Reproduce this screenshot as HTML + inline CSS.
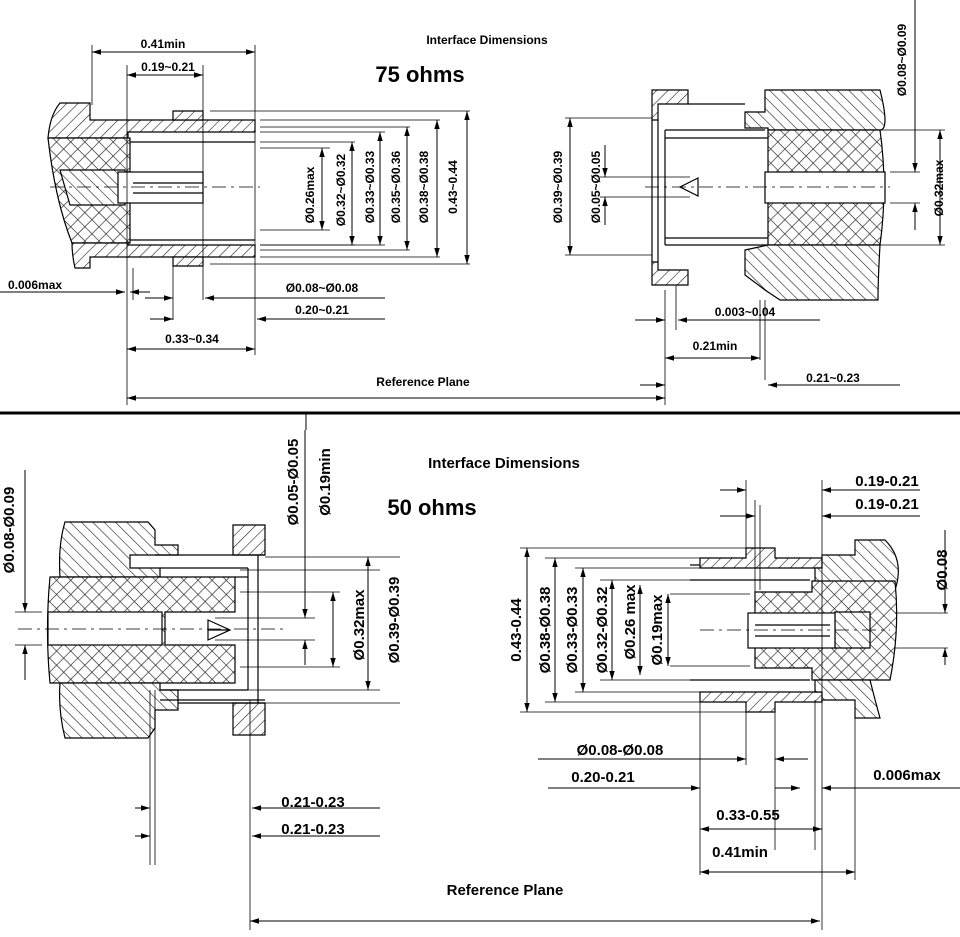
<!DOCTYPE html>
<html><head><meta charset="utf-8"><style>
html,body{margin:0;padding:0;background:#fff;}
svg{display:block;font-family:"Liberation Sans",sans-serif;font-weight:bold;}
</style></head><body>
<svg width="960" height="937" viewBox="0 0 960 937" xmlns="http://www.w3.org/2000/svg">
<defs>
<pattern id="h" width="8" height="8" patternUnits="userSpaceOnUse" patternTransform="rotate(45)"><rect width="8" height="8" fill="#fff"/><line x1="0" y1="0" x2="0" y2="8" stroke="#222" stroke-width="1.2"/></pattern>
<pattern id="h2" width="8" height="8" patternUnits="userSpaceOnUse" patternTransform="rotate(-45)"><rect width="8" height="8" fill="#fff"/><line x1="0" y1="0" x2="0" y2="8" stroke="#222" stroke-width="1.2"/></pattern>
<pattern id="x" width="10" height="10" patternUnits="userSpaceOnUse" patternTransform="rotate(45)"><rect width="10" height="10" fill="#fff"/><line x1="0" y1="0" x2="0" y2="10" stroke="#222" stroke-width="1.3"/><line x1="0" y1="0" x2="10" y2="0" stroke="#222" stroke-width="1.3"/></pattern>
<marker id="a" viewBox="0 0 10 10" refX="10" refY="5" markerWidth="9" markerHeight="9" orient="auto-start-reverse" markerUnits="userSpaceOnUse"><path d="M0,2 L10,5 L0,8z" fill="#000"/></marker>
</defs>
<g stroke="#000" stroke-width="1.2" fill="none">
<!-- ===== top-left 75 plug ===== -->
<path d="M60,103 L90,103 L90,120 L255,120 L255,132 L128,132 L128,138 L48,138 Q50,115 60,103z" fill="url(#h)"/>
<path d="M173,111 L203,111 L203,120 L173,120z" fill="url(#h)"/>
<path d="M48,138 L130,138 L130,243 L72,243 Q55,200 48,138z" fill="url(#x)"/>
<path d="M60,170 L125,170 L125,205 L70,205z" fill="url(#h2)"/>
<path d="M72,243 L128,243 L128,245 L255,245 L255,257 L90,257 L90,268 L75,268 Q72,255 72,243z" fill="url(#h)"/>
<path d="M173,257 L203,257 L203,266 L173,266z" fill="url(#h)"/>
<rect x="118" y="172" width="85" height="31" fill="#fff"/>
<line x1="133" y1="183" x2="203" y2="183"/><line x1="133" y1="193" x2="203" y2="193"/>
<line x1="130" y1="142" x2="255" y2="142"/><line x1="130" y1="240" x2="255" y2="240"/>
<line x1="50" y1="187" x2="260" y2="187" stroke-dasharray="14,5,3,5" stroke-width="0.8"/>
<!-- extension lines -->
<g stroke-width="0.8">
<line x1="210" y1="111" x2="470" y2="111"/><line x1="260" y1="120" x2="440" y2="120"/><line x1="260" y1="127" x2="410" y2="127"/>
<line x1="260" y1="132" x2="385" y2="132"/><line x1="260" y1="142" x2="355" y2="142"/><line x1="260" y1="148" x2="330" y2="148"/>
<line x1="260" y1="230" x2="330" y2="230"/><line x1="260" y1="245" x2="355" y2="245"/><line x1="260" y1="245" x2="385" y2="245"/>
<line x1="260" y1="250" x2="410" y2="250"/><line x1="260" y1="257" x2="440" y2="257"/><line x1="210" y1="264" x2="470" y2="264"/>
<line x1="92" y1="45" x2="92" y2="105"/><line x1="255" y1="45" x2="255" y2="355"/><line x1="127" y1="65" x2="127" y2="405"/><line x1="203" y1="65" x2="203" y2="300"/>
<line x1="133" y1="268" x2="133" y2="300"/><line x1="173" y1="266" x2="173" y2="320"/>
<line x1="665" y1="290" x2="665" y2="405"/>
</g>
<g marker-start="url(#a)" marker-end="url(#a)" stroke-width="1">
<line x1="92" y1="52" x2="255" y2="52"/><line x1="127" y1="75" x2="203" y2="75"/>
<line x1="322" y1="148" x2="322" y2="230"/><line x1="352" y1="142" x2="352" y2="245"/><line x1="380" y1="132" x2="380" y2="245"/>
<line x1="407" y1="127" x2="407" y2="250"/><line x1="437" y1="120" x2="437" y2="257"/><line x1="467" y1="111" x2="467" y2="264"/>
<line x1="127" y1="349" x2="255" y2="349"/><line x1="127" y1="398" x2="665" y2="398"/>
</g>
<g marker-end="url(#a)" stroke-width="1">
<line x1="0" y1="292" x2="125" y2="292"/><line x1="150" y1="292" x2="130" y2="292"/>
<line x1="145" y1="298" x2="173" y2="298"/><line x1="385" y1="298" x2="205" y2="298"/>
<line x1="150" y1="319" x2="173" y2="319"/><line x1="385" y1="319" x2="257" y2="319"/>
</g>
<!-- ===== top-right 75 jack ===== -->
<path d="M652,90 L688,90 L688,104 L658,104 L658,120 L652,120z" fill="url(#h)"/>
<path d="M652,262 L658,262 L658,270 L688,270 L688,285 L652,285z" fill="url(#h)"/>
<line x1="652" y1="120" x2="652" y2="262"/><line x1="658" y1="120" x2="658" y2="262"/>
<line x1="688" y1="104" x2="745" y2="104"/><line x1="665" y1="130" x2="765" y2="130"/><line x1="665" y1="138" x2="768" y2="138"/>
<line x1="665" y1="130" x2="665" y2="245"/>
<line x1="665" y1="238" x2="768" y2="238"/><line x1="665" y1="245" x2="768" y2="245"/>
<path d="M745,112 L765,112 L765,90 L880,90 Q890,130 880,130 L768,130 L768,128 L745,128z" fill="url(#h2)"/>
<path d="M768,130 L880,130 Q888,187 880,245 L768,245z" fill="url(#x)"/>
<path d="M745,250 L768,245 L880,245 Q878,280 878,300 L780,300 L765,290 L745,275z" fill="url(#h2)"/>
<rect x="765" y="172" width="120" height="31" fill="#fff"/>
<path d="M698,178 L680,187 L698,196z" fill="#fff"/>
<line x1="645" y1="187" x2="890" y2="187" stroke-dasharray="14,5,3,5" stroke-width="0.8"/>
<g stroke-width="0.8">
<line x1="565" y1="118" x2="652" y2="118"/><line x1="565" y1="255" x2="652" y2="255"/>
<line x1="600" y1="177" x2="690" y2="177"/><line x1="600" y1="197" x2="690" y2="197"/>
<line x1="880" y1="130" x2="945" y2="130"/><line x1="880" y1="245" x2="945" y2="245"/>
<line x1="890" y1="172" x2="920" y2="172"/><line x1="890" y1="203" x2="920" y2="203"/>
<line x1="676" y1="285" x2="676" y2="330"/><line x1="765" y1="300" x2="765" y2="380"/><line x1="760" y1="300" x2="760" y2="360"/>
</g>
<g marker-start="url(#a)" marker-end="url(#a)" stroke-width="1">
<line x1="570" y1="118" x2="570" y2="255"/><line x1="940" y1="130" x2="940" y2="245"/>
<line x1="665" y1="358" x2="760" y2="358"/>
</g>
<g marker-end="url(#a)" stroke-width="1">
<line x1="605" y1="145" x2="605" y2="177"/><line x1="605" y1="225" x2="605" y2="197"/>
<line x1="915" y1="0" x2="915" y2="172"/><line x1="915" y1="230" x2="915" y2="203"/>
<line x1="635" y1="320" x2="665" y2="320"/><line x1="820" y1="320" x2="678" y2="320"/>
<line x1="640" y1="385" x2="665" y2="385"/><line x1="900" y1="385" x2="768" y2="385"/>
</g>
<!-- separator -->
<line x1="0" y1="413" x2="960" y2="413" stroke-width="3"/>
<line x1="306" y1="413" x2="306" y2="430" stroke-width="1"/>
<!-- ===== bottom-left 50 jack ===== -->
<path d="M65,522 L148,522 L155,530 L155,545 L178,545 L178,555 L130,555 L130,565 L130,568 L160,568 L160,577 L60,577 Q58,545 65,522z" fill="url(#h2)"/>
<path d="M233,525 L265,525 L265,555 L233,555z" fill="url(#h)"/>
<path d="M50,577 L235,577 L235,612 L165,612 L165,645 L235,645 L235,683 L50,683 Q45,630 50,577z" fill="url(#x)"/>
<rect x="48" y="612" width="114" height="33" fill="#fff"/>
<path d="M60,683 L160,683 L160,690 L178,690 L178,710 L155,710 L155,728 L148,738 L65,738 Q58,710 60,683z" fill="url(#h2)"/>
<path d="M233,703 L265,703 L265,735 L233,735z" fill="url(#h)"/>
<line x1="155" y1="555" x2="265" y2="555"/><line x1="160" y1="568" x2="248" y2="568"/><line x1="235" y1="577" x2="248" y2="577"/>
<line x1="248" y1="568" x2="248" y2="690"/><line x1="258" y1="555" x2="258" y2="703"/>
<line x1="160" y1="690" x2="248" y2="690"/><line x1="160" y1="700" x2="265" y2="700"/><line x1="178" y1="703" x2="265" y2="703"/>
<path d="M208,630 L229,630 M208,620 L230,630 L208,640z" fill="#fff"/>
<line x1="18" y1="629" x2="285" y2="629" stroke-dasharray="14,5,3,5" stroke-width="0.8"/>
<g stroke-width="0.8">
<line x1="265" y1="557" x2="400" y2="557"/><line x1="240" y1="570" x2="380" y2="570"/><line x1="240" y1="592" x2="340" y2="592"/>
<line x1="215" y1="618" x2="315" y2="618"/><line x1="215" y1="640" x2="315" y2="640"/><line x1="240" y1="667" x2="340" y2="667"/>
<line x1="240" y1="690" x2="380" y2="690"/><line x1="265" y1="703" x2="400" y2="703"/>
<line x1="15" y1="612" x2="42" y2="612"/><line x1="15" y1="645" x2="42" y2="645"/>
<line x1="150" y1="690" x2="150" y2="865"/><line x1="155" y1="690" x2="155" y2="865"/><line x1="250" y1="700" x2="250" y2="930"/>
</g>
<g marker-start="url(#a)" marker-end="url(#a)" stroke-width="1">
<line x1="333" y1="592" x2="333" y2="667"/><line x1="368" y1="557" x2="368" y2="690"/>
<line x1="250" y1="921" x2="820" y2="921"/>
</g>
<g marker-end="url(#a)" stroke-width="1">
<line x1="25" y1="470" x2="25" y2="612"/><line x1="25" y1="680" x2="25" y2="645"/>
<line x1="305" y1="430" x2="305" y2="618"/><line x1="305" y1="665" x2="305" y2="640"/>
<line x1="135" y1="808" x2="150" y2="808"/><line x1="380" y1="808" x2="252" y2="808"/>
<line x1="135" y1="836" x2="150" y2="836"/><line x1="380" y1="836" x2="252" y2="836"/>
</g>
<!-- ===== bottom-right 50 plug ===== -->
<path d="M700,558 L746,558 L746,548 L775,548 L775,558 L822,558 L822,568 L700,568z" fill="url(#h)"/>
<path d="M700,692 L822,692 L822,702 L775,702 L775,712 L746,712 L746,702 L700,702z" fill="url(#h)"/>
<path d="M855,540 L885,540 Q905,560 895,590 L815,590 L815,568 L822,568 L822,555 L855,555z" fill="url(#h2)"/>
<path d="M755,592 L812,592 L812,581 L895,581 Q900,630 890,680 L812,680 L812,668 L755,668z" fill="url(#x)"/>
<path d="M835,612 L870,612 L870,648 L835,648z" fill="url(#h2)"/>
<path d="M815,680 L870,680 Q875,700 880,718 L855,718 L855,700 L822,700 L822,692 L815,692z" fill="url(#h2)"/>
<rect x="748" y="613" width="87" height="35" fill="#fff"/>
<line x1="755" y1="625" x2="830" y2="625"/><line x1="755" y1="636" x2="830" y2="636"/>
<line x1="690" y1="580" x2="810" y2="580"/><line x1="690" y1="680" x2="810" y2="680"/>
<line x1="690" y1="565" x2="700" y2="565"/>
<line x1="700" y1="630" x2="890" y2="630" stroke-dasharray="14,5,3,5" stroke-width="0.8"/>
<g stroke-width="0.8">
<line x1="520" y1="548" x2="746" y2="548"/><line x1="545" y1="558" x2="700" y2="558"/><line x1="575" y1="568" x2="700" y2="568"/>
<line x1="600" y1="580" x2="690" y2="580"/><line x1="670" y1="594" x2="750" y2="594"/><line x1="670" y1="666" x2="750" y2="666"/>
<line x1="600" y1="680" x2="690" y2="680"/><line x1="575" y1="692" x2="700" y2="692"/><line x1="545" y1="702" x2="700" y2="702"/><line x1="520" y1="712" x2="746" y2="712"/>
<line x1="895" y1="613" x2="948" y2="613"/><line x1="895" y1="648" x2="948" y2="648"/>
<line x1="700" y1="700" x2="700" y2="875"/><line x1="746" y1="712" x2="746" y2="765"/><line x1="775" y1="712" x2="775" y2="850"/>
<line x1="815" y1="700" x2="815" y2="850"/><line x1="822" y1="480" x2="822" y2="930"/><line x1="855" y1="718" x2="855" y2="880"/>
<line x1="746" y1="480" x2="746" y2="548"/><line x1="755" y1="500" x2="755" y2="592"/><line x1="760" y1="505" x2="760" y2="590"/>
</g>
<g marker-start="url(#a)" marker-end="url(#a)" stroke-width="1">
<line x1="527" y1="548" x2="527" y2="712"/><line x1="555" y1="558" x2="555" y2="702"/><line x1="583" y1="568" x2="583" y2="692"/>
<line x1="612" y1="580" x2="612" y2="680"/><line x1="640" y1="585" x2="640" y2="675"/><line x1="668" y1="594" x2="668" y2="666"/>
<line x1="700" y1="829" x2="822" y2="829"/><line x1="700" y1="872" x2="855" y2="872"/>
</g>
<g marker-end="url(#a)" stroke-width="1">
<line x1="720" y1="490" x2="746" y2="490"/><line x1="920" y1="490" x2="822" y2="490"/>
<line x1="720" y1="516" x2="755" y2="516"/><line x1="920" y1="516" x2="822" y2="516"/>
<line x1="945" y1="530" x2="945" y2="613"/><line x1="945" y1="665" x2="945" y2="648"/>
<line x1="538" y1="759" x2="746" y2="759"/><line x1="808" y1="759" x2="775" y2="759"/>
<line x1="548" y1="788" x2="700" y2="788"/><line x1="775" y1="788" x2="800" y2="788"/><line x1="960" y1="788" x2="822" y2="788"/>
</g>
</g>
<!-- ===== text ===== -->
<g fill="#000" font-size="12">
<text x="487" y="44" text-anchor="middle" font-size="12">Interface Dimensions</text>
<text x="420" y="82" text-anchor="middle" font-size="22">75 ohms</text>
<text x="163" y="48" text-anchor="middle">0.41min</text>
<text x="168" y="71" text-anchor="middle">0.19~0.21</text>
<text x="8" y="289">0.006max</text>
<text x="322" y="292" text-anchor="middle">Ø0.08~Ø0.08</text>
<text x="322" y="314" text-anchor="middle">0.20~0.21</text>
<text x="192" y="343" text-anchor="middle">0.33~0.34</text>
<text x="423" y="386" text-anchor="middle">Reference Plane</text>
<text x="745" y="316" text-anchor="middle">0.003~0.04</text>
<text x="715" y="350" text-anchor="middle">0.21min</text>
<text x="833" y="382" text-anchor="middle">0.21~0.23</text>
<text transform="translate(314,195) rotate(-90)" text-anchor="middle">Ø0.26max</text>
<text transform="translate(345,190) rotate(-90)" text-anchor="middle">Ø0.32~Ø0.32</text>
<text transform="translate(374,187) rotate(-90)" text-anchor="middle">Ø0.33~Ø0.33</text>
<text transform="translate(400,187) rotate(-90)" text-anchor="middle">Ø0.35~Ø0.36</text>
<text transform="translate(428,187) rotate(-90)" text-anchor="middle">Ø0.38~Ø0.38</text>
<text transform="translate(457,187) rotate(-90)" text-anchor="middle">0.43~0.44</text>
<text transform="translate(562,187) rotate(-90)" text-anchor="middle">Ø0.39~Ø0.39</text>
<text transform="translate(600,187) rotate(-90)" text-anchor="middle">Ø0.05~Ø0.05</text>
<text transform="translate(943,188) rotate(-90)" text-anchor="middle">Ø0.32max</text>
<text transform="translate(906,60) rotate(-90)" text-anchor="middle">Ø0.08~Ø0.09</text>
<g font-size="15">
<text x="504" y="468" text-anchor="middle">Interface Dimensions</text>
<text x="432" y="515" text-anchor="middle" font-size="22">50 ohms</text>
<text x="887" y="486" text-anchor="middle">0.19-0.21</text>
<text x="887" y="509" text-anchor="middle">0.19-0.21</text>
<text x="620" y="755" text-anchor="middle">Ø0.08-Ø0.08</text>
<text x="603" y="782" text-anchor="middle">0.20-0.21</text>
<text x="907" y="780" text-anchor="middle">0.006max</text>
<text x="313" y="807" text-anchor="middle">0.21-0.23</text>
<text x="313" y="834" text-anchor="middle">0.21-0.23</text>
<text x="748" y="820" text-anchor="middle">0.33-0.55</text>
<text x="740" y="857" text-anchor="middle">0.41min</text>
<text x="505" y="895" text-anchor="middle">Reference Plane</text>
<text transform="translate(14,530) rotate(-90)" text-anchor="middle">Ø0.08-Ø0.09</text>
<text transform="translate(298,482) rotate(-90)" text-anchor="middle">Ø0.05-Ø0.05</text>
<text transform="translate(330,482) rotate(-90)" text-anchor="middle">Ø0.19min</text>
<text transform="translate(364,625) rotate(-90)" text-anchor="middle">Ø0.32max</text>
<text transform="translate(399,620) rotate(-90)" text-anchor="middle">Ø0.39-Ø0.39</text>
<text transform="translate(521,630) rotate(-90)" text-anchor="middle">0.43-0.44</text>
<text transform="translate(550,630) rotate(-90)" text-anchor="middle">Ø0.38-Ø0.38</text>
<text transform="translate(577,630) rotate(-90)" text-anchor="middle">Ø0.33-Ø0.33</text>
<text transform="translate(607,630) rotate(-90)" text-anchor="middle">Ø0.32-Ø0.32</text>
<text transform="translate(635,622) rotate(-90)" text-anchor="middle">Ø0.26 max</text>
<text transform="translate(662,630) rotate(-90)" text-anchor="middle">Ø0.19max</text>
<text transform="translate(947,570) rotate(-90)" text-anchor="middle">Ø0.08</text>
</g>
</g>
</svg>
</body></html>
